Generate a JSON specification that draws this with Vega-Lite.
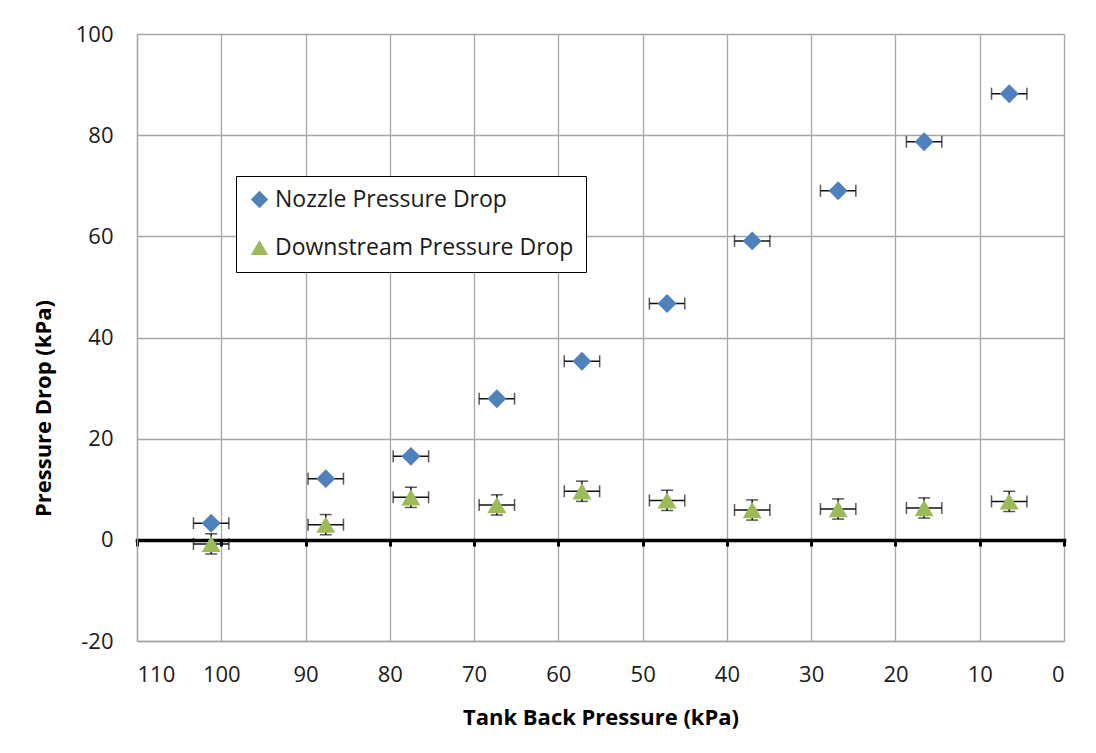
{
  "$schema": "https://vega.github.io/schema/vega-lite/v6.json",
  "width": 927,
  "height": 607,
  "autosize": {"type": "none"},
  "padding": {"left": 137, "top": 34, "right": 32, "bottom": 112},
  "background": "white",
  "config": {
    "font": "Open Sans",
    "view": {"stroke": null},
    "axis": {"labelFont": "Open Sans", "titleFont": "Open Sans"}
  },
  "data": {
    "values": [
      {"series": "Nozzle Pressure Drop", "x": 101.2, "y": 3.3, "xerr": 2.1, "yerr": 0.3},
      {"series": "Nozzle Pressure Drop", "x": 87.6, "y": 12.1, "xerr": 2.1, "yerr": 0.3},
      {"series": "Nozzle Pressure Drop", "x": 77.5, "y": 16.5, "xerr": 2.1, "yerr": 0.3},
      {"series": "Nozzle Pressure Drop", "x": 67.3, "y": 27.9, "xerr": 2.1, "yerr": 0.3},
      {"series": "Nozzle Pressure Drop", "x": 57.2, "y": 35.3, "xerr": 2.1, "yerr": 0.3},
      {"series": "Nozzle Pressure Drop", "x": 47.1, "y": 46.7, "xerr": 2.1, "yerr": 0.3},
      {"series": "Nozzle Pressure Drop", "x": 37.0, "y": 59.1, "xerr": 2.1, "yerr": 0.3},
      {"series": "Nozzle Pressure Drop", "x": 26.8, "y": 69.0, "xerr": 2.1, "yerr": 0.3},
      {"series": "Nozzle Pressure Drop", "x": 16.6, "y": 78.7, "xerr": 2.1, "yerr": 0.3},
      {"series": "Nozzle Pressure Drop", "x": 6.5, "y": 88.2, "xerr": 2.1, "yerr": 0.3},
      {"series": "Downstream Pressure Drop", "x": 101.2, "y": -0.8, "xerr": 2.1, "yerr": 2.0},
      {"series": "Downstream Pressure Drop", "x": 87.6, "y": 3.0, "xerr": 2.1, "yerr": 2.0},
      {"series": "Downstream Pressure Drop", "x": 77.5, "y": 8.4, "xerr": 2.1, "yerr": 2.0},
      {"series": "Downstream Pressure Drop", "x": 67.3, "y": 6.9, "xerr": 2.1, "yerr": 2.0},
      {"series": "Downstream Pressure Drop", "x": 57.2, "y": 9.6, "xerr": 2.1, "yerr": 2.0},
      {"series": "Downstream Pressure Drop", "x": 47.1, "y": 7.8, "xerr": 2.1, "yerr": 2.0},
      {"series": "Downstream Pressure Drop", "x": 37.0, "y": 5.9, "xerr": 2.1, "yerr": 2.0},
      {"series": "Downstream Pressure Drop", "x": 26.8, "y": 6.1, "xerr": 2.1, "yerr": 2.0},
      {"series": "Downstream Pressure Drop", "x": 16.6, "y": 6.3, "xerr": 2.1, "yerr": 2.0},
      {"series": "Downstream Pressure Drop", "x": 6.5, "y": 7.6, "xerr": 2.1, "yerr": 2.0}
    ]
  },
  "layer": [
    {
      "mark": {"type": "errorbar", "ticks": {"size": 12}, "color": "#111111", "thickness": 1.5},
      "encoding": {
        "x": {
          "field": "x", "type": "quantitative",
          "scale": {"domain": [0, 110], "reverse": true, "nice": false},
          "axis": {
            "orient": "bottom", "offset": -101, "labels": false, "grid": false, "title": null,
            "values": [0, 10, 20, 30, 40, 50, 60, 70, 80, 90, 100, 110],
            "domainColor": "black", "domainWidth": 3.5, "domainCap": "square",
            "tickColor": "black", "tickWidth": 3, "tickSize": 6
          }
        },
        "xError": {"field": "xerr"},
        "y": {"field": "y", "type": "quantitative", "title": "Pressure Drop (kPa)"}
      }
    },
    {
      "transform": [{"filter": "datum.series === 'Downstream Pressure Drop'"}],
      "mark": {"type": "errorbar", "ticks": {"size": 12}, "color": "#111111", "thickness": 1.5},
      "encoding": {
        "x": {"field": "x", "type": "quantitative", "axis": null},
        "y": {"field": "y", "type": "quantitative", "title": "Pressure Drop (kPa)"},
        "yError": {"field": "yerr"}
      }
    },
    {
      "mark": {"type": "point", "filled": true, "opacity": 1, "size": 360},
      "encoding": {
        "x": {
          "field": "x", "type": "quantitative",
          "axis": {
            "orient": "bottom",
            "title": "Tank Back Pressure (kPa)",
            "values": [0, 10, 20, 30, 40, 50, 60, 70, 80, 90, 100, 110],
            "grid": true, "gridColor": "#A6A6A6", "gridWidth": 1.3,
            "domainColor": "#A6A6A6", "domainWidth": 1.3,
            "ticks": false, "labelPadding": 23,
            "labelFontSize": 22, "labelColor": "#1a1a1a",
            "titleFontSize": 22, "titleFontWeight": "bold", "titleColor": "black",
            "titleY": 76, "titleBaseline": "middle"
          }
        },
        "y": {
          "field": "y", "type": "quantitative",
          "scale": {"domain": [-20, 100], "nice": false},
          "axis": {
            "title": "Pressure Drop (kPa)",
            "values": [-20, 0, 20, 40, 60, 80, 100],
            "labelExpr": "'' + datum.value",
            "grid": true, "gridColor": "#A6A6A6", "gridWidth": 1.3,
            "domainColor": "#A6A6A6", "domainWidth": 1.3,
            "ticks": false, "labelPadding": 24,
            "labelFontSize": 22, "labelColor": "#1a1a1a",
            "titleFontSize": 22, "titleFontWeight": "bold", "titleColor": "black",
            "titleX": -94, "titleY": 374, "titleAngle": -90, "titleBaseline": "middle", "titleAlign": "center"
          }
        },
        "color": {
          "field": "series", "type": "nominal",
          "scale": {"domain": ["Nozzle Pressure Drop", "Downstream Pressure Drop"], "range": ["#4F81BD", "#9BBB59"]},
          "legend": {
            "orient": "none", "legendX": 99, "legendY": 142, "title": null,
            "fillColor": "white", "strokeColor": "black", "padding": 12,
            "labelFontSize": 23, "labelColor": "#1a1a1a", "labelLimit": 400,
            "symbolSize": 300, "rowPadding": 24, "symbolOpacity": 1
          }
        },
        "shape": {
          "field": "series", "type": "nominal",
          "scale": {"domain": ["Nozzle Pressure Drop", "Downstream Pressure Drop"], "range": ["diamond", "triangle-up"]}
        }
      }
    }
  ],
  "resolve": {"axis": {"x": "independent"}}
}
